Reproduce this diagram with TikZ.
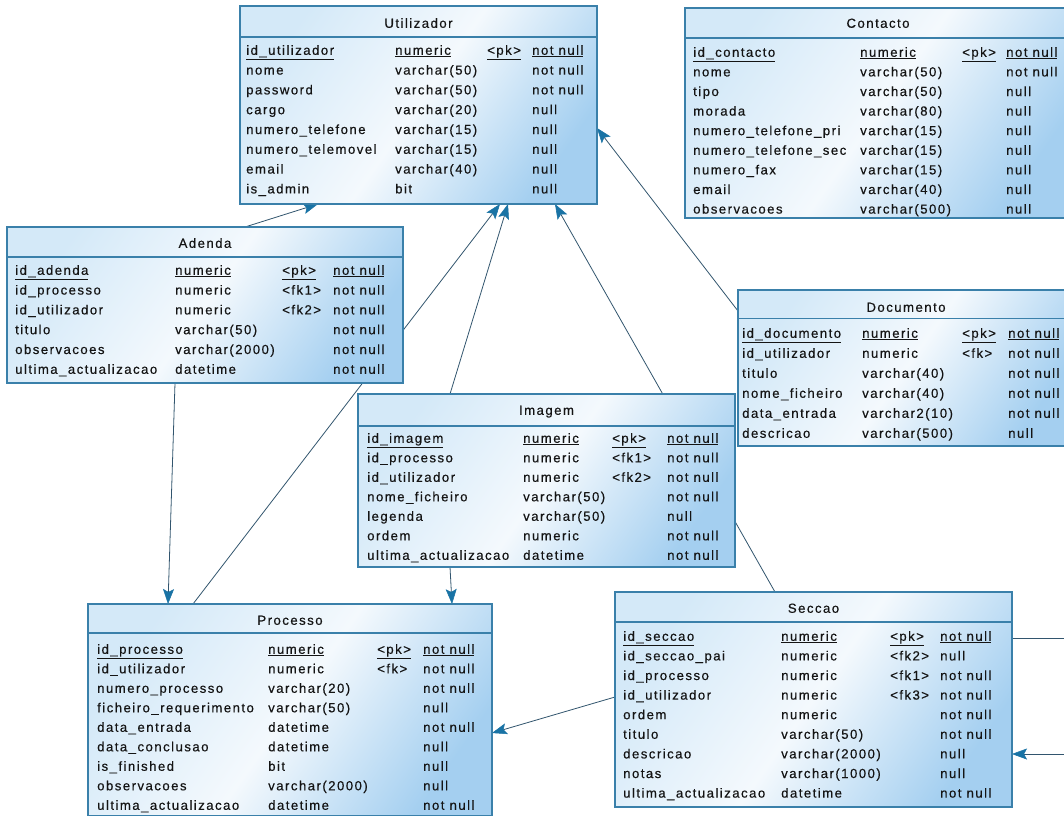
\documentclass[tikz,border=0pt]{standalone}
\usepackage{fontspec}
\setmainfont{Liberation Sans}[LetterSpace=11,FakeBold=0.4]
\usetikzlibrary{arrows.meta,calc}
\pgfdeclarelayer{bg}
\pgfsetlayers{bg,main}
\definecolor{bordc}{RGB}{58,128,170}
\definecolor{linec}{RGB}{50,85,110}
\definecolor{arrc}{RGB}{25,115,165}
\definecolor{shA}{RGB}{212,233,248}
\definecolor{shM}{RGB}{244,249,253}
\definecolor{shB}{RGB}{164,207,240}
\definecolor{txtc}{RGB}{20,20,20}
\newcommand\setcols[4]{\def\ca{#1}\def\cb{#2}\def\cc{#3}\def\cd{#4}}
\newcommand\tr[7]{%
  \node[cell] (#1n#2) at (\ca,#3+4.8) {#4};
  \node[cell] (#1t#2) at (\cb,#3+4.8) {#5};
  \node[cell] (#1k#2) at (\cc,#3+4.8) {#6};
  \node[cell] (#1u#2) at (\cd,#3+4.8) {#7};}
\newcommand\ul[1]{\underline{#1}}
\tikzset{
  tbl/.style={draw=bordc, line width=1.2pt, top color=shA, bottom color=shB, middle color=shM,
    shading angle=55, rectangle, inner sep=0pt, outer sep=0pt, anchor=north west},
  cell/.style={anchor=base west, inner sep=0pt, text=txtc, font=\fontsize{13.2}{15}\selectfont},
  head/.style={anchor=base, inner sep=0pt, text=txtc, font=\fontsize{13.2}{15}\selectfont},
  hline/.style={draw=bordc, line width=1.2pt},
  fk/.style={draw=linec, line width=0.8pt,
    -{Stealth[length=15pt,width=11pt,inset=3pt,line width=0.5pt,color=arrc,fill=arrc]}},
}
\begin{document}
\begin{tikzpicture}[x=1pt,y=-1pt]
\useasboundingbox (0,0) rectangle (1064,817);
% ---------------- tables
% Utilizador
\node[tbl, minimum width=357pt, minimum height=198pt] (util) at (240,6) {};
\draw[hline] ([yshift=-31pt]util.north west) -- ([yshift=-31pt]util.north east);
\node[head] (utilH) at (418.5,27.8) {Utilizador};
\setcols{246}{395}{487}{532}
\tr{u}{1}{50}{\ul{id\_utilizador}}{\ul{numeric}}{\ul{<pk>}}{\ul{not null}}
\tr{u}{2}{69.8}{nome}{varchar(50)}{}{not null}
\tr{u}{3}{89.6}{password}{varchar(50)}{}{not null}
\tr{u}{4}{109.4}{cargo}{varchar(20)}{}{null}
\tr{u}{5}{129.2}{numero\_telefone}{varchar(15)}{}{null}
\tr{u}{6}{149}{numero\_telemovel}{varchar(15)}{}{null}
\tr{u}{7}{168.8}{email}{varchar(40)}{}{null}
\tr{u}{8}{188.6}{is\_admin}{bit}{}{null}
% Contacto
\node[tbl, minimum width=386pt, minimum height=210pt] (cont) at (685,8) {};
\draw[hline] ([yshift=-30pt]cont.north west) -- ([yshift=-30pt]cont.north east);
\node[head] (contH) at (878,27.8) {Contacto};
\setcols{693}{860}{962}{1006}
\tr{c}{1}{52}{\ul{id\_contacto}}{\ul{numeric}}{\ul{<pk>}}{\ul{not null}}
\tr{c}{2}{71.6}{nome}{varchar(50)}{}{not null}
\tr{c}{3}{91.2}{tipo}{varchar(50)}{}{null}
\tr{c}{4}{110.8}{morada}{varchar(80)}{}{null}
\tr{c}{5}{130.4}{numero\_telefone\_pri}{varchar(15)}{}{null}
\tr{c}{6}{150}{numero\_telefone\_sec}{varchar(15)}{}{null}
\tr{c}{7}{169.6}{numero\_fax}{varchar(15)}{}{null}
\tr{c}{8}{189.2}{email}{varchar(40)}{}{null}
\tr{c}{9}{208.8}{observacoes}{varchar(500)}{}{null}
% Adenda
\node[tbl, minimum width=396pt, minimum height=156pt] (aden) at (7,227) {};
\draw[hline] ([yshift=-30pt]aden.north west) -- ([yshift=-30pt]aden.north east);
\node[head] (adenH) at (205,247.8) {Adenda};
\setcols{15}{175}{282}{333}
\tr{a}{1}{270}{\ul{id\_adenda}}{\ul{numeric}}{\ul{<pk>}}{\ul{not null}}
\tr{a}{2}{289.8}{id\_processo}{numeric}{<fk1>}{not null}
\tr{a}{3}{309.6}{id\_utilizador}{numeric}{<fk2>}{not null}
\tr{a}{4}{329.4}{titulo}{varchar(50)}{}{not null}
\tr{a}{5}{349.2}{observacoes}{varchar(2000)}{}{not null}
\tr{a}{6}{369}{ultima\_actualizacao}{datetime}{}{not null}
% Documento
\node[tbl, minimum width=336pt, minimum height=156pt] (doc) at (738,290) {};
\draw[hline] ([yshift=-28.5pt]doc.north west) -- ([yshift=-28.5pt]doc.north east);
\node[head] (docH) at (906,311.8) {Documento};
\setcols{742}{862}{962}{1008}
\tr{d}{1}{333}{\ul{id\_documento}}{\ul{numeric}}{\ul{<pk>}}{\ul{not null}}
\tr{d}{2}{353}{id\_utilizador}{numeric}{<fk>}{not null}
\tr{d}{3}{373}{titulo}{varchar(40)}{}{not null}
\tr{d}{4}{393}{nome\_ficheiro}{varchar(40)}{}{not null}
\tr{d}{5}{413}{data\_entrada}{varchar2(10)}{}{not null}
\tr{d}{6}{433}{descricao}{varchar(500)}{}{null}
% Imagem
\node[tbl, minimum width=377pt, minimum height=173pt] (imag) at (358,394) {};
\draw[hline] ([yshift=-32pt]imag.north west) -- ([yshift=-32pt]imag.north east);
\node[head] (imagH) at (546.5,414.8) {Imagem};
\setcols{367}{523}{612}{667}
\tr{i}{1}{438}{\ul{id\_imagem}}{\ul{numeric}}{\ul{<pk>}}{\ul{not null}}
\tr{i}{2}{457.5}{id\_processo}{numeric}{<fk1>}{not null}
\tr{i}{3}{477}{id\_utilizador}{numeric}{<fk2>}{not null}
\tr{i}{4}{496.5}{nome\_ficheiro}{varchar(50)}{}{not null}
\tr{i}{5}{516}{legenda}{varchar(50)}{}{null}
\tr{i}{6}{535.5}{ordem}{numeric}{}{not null}
\tr{i}{7}{555}{ultima\_actualizacao}{datetime}{}{not null}
% Processo
\node[tbl, minimum width=404pt, minimum height=211.5pt] (proc) at (88,604) {};
\draw[hline] ([yshift=-29pt]proc.north west) -- ([yshift=-29pt]proc.north east);
\node[head] (procH) at (290,624.8) {Processo};
\setcols{97}{268}{377}{423}
\tr{p}{1}{649}{\ul{id\_processo}}{\ul{numeric}}{\ul{<pk>}}{\ul{not null}}
\tr{p}{2}{668.5}{id\_utilizador}{numeric}{<fk>}{not null}
\tr{p}{3}{688}{numero\_processo}{varchar(20)}{}{not null}
\tr{p}{4}{707.5}{ficheiro\_requerimento}{varchar(50)}{}{null}
\tr{p}{5}{727}{data\_entrada}{datetime}{}{not null}
\tr{p}{6}{746.5}{data\_conclusao}{datetime}{}{null}
\tr{p}{7}{766}{is\_finished}{bit}{}{null}
\tr{p}{8}{785.5}{observacoes}{varchar(2000)}{}{null}
\tr{p}{9}{805}{ultima\_actualizacao}{datetime}{}{not null}
% Seccao
\node[tbl, minimum width=397pt, minimum height=215pt] (secc) at (615,592) {};
\draw[hline] ([yshift=-30pt]secc.north west) -- ([yshift=-30pt]secc.north east);
\node[head] (seccH) at (813.5,612.8) {Seccao};
\setcols{623}{781}{890}{940}
\tr{s}{1}{636}{\ul{id\_seccao}}{\ul{numeric}}{\ul{<pk>}}{\ul{not null}}
\tr{s}{2}{655.6}{id\_seccao\_pai}{numeric}{<fk2>}{null}
\tr{s}{3}{675.2}{id\_processo}{numeric}{<fk1>}{not null}
\tr{s}{4}{694.8}{id\_utilizador}{numeric}{<fk3>}{not null}
\tr{s}{5}{714.4}{ordem}{numeric}{}{not null}
\tr{s}{6}{734}{titulo}{varchar(50)}{}{not null}
\tr{s}{7}{753.6}{descricao}{varchar(2000)}{}{null}
\tr{s}{8}{773.2}{notas}{varchar(1000)}{}{null}
\tr{s}{9}{792.8}{ultima\_actualizacao}{datetime}{}{not null}
% ---------------- connectors (behind tables)
\begin{pgfonlayer}{bg}
\fill[white] (0,0) rectangle (1064,817);
\draw[fk] ($(aden.north west)+(238,0)$) -- ($(util.south west)+(78,0)$);
\draw[fk] ($(proc.north west)+(105,0)$) -- ($(util.south west)+(260,0)$);
\draw[fk] ($(imag.north west)+(92,0)$) -- ($(util.south west)+(268,0)$);
\draw[fk] ($(secc.north west)+(160,0)$) -- ($(util.south west)+(315,0)$);
\draw[fk] ($(doc.north west)+(0,21)$) -- ($(util.north east)+(0,122)$);
\draw[fk] ($(aden.south west)+(168,0)$) -- ($(proc.north west)+(80,0)$);
\draw[fk] ($(imag.south west)+(92,0)$) -- ($(proc.north west)+(364,0)$);
\draw[fk] ($(secc.north west)+(0,105)$) -- ($(proc.north east)+(0,129)$);
\draw[fk] ($(secc.north east)+(0,46)$) -- ++(62,0) |- ($(secc.north east)+(0,162)$);
\end{pgfonlayer}
\end{tikzpicture}
\end{document}
